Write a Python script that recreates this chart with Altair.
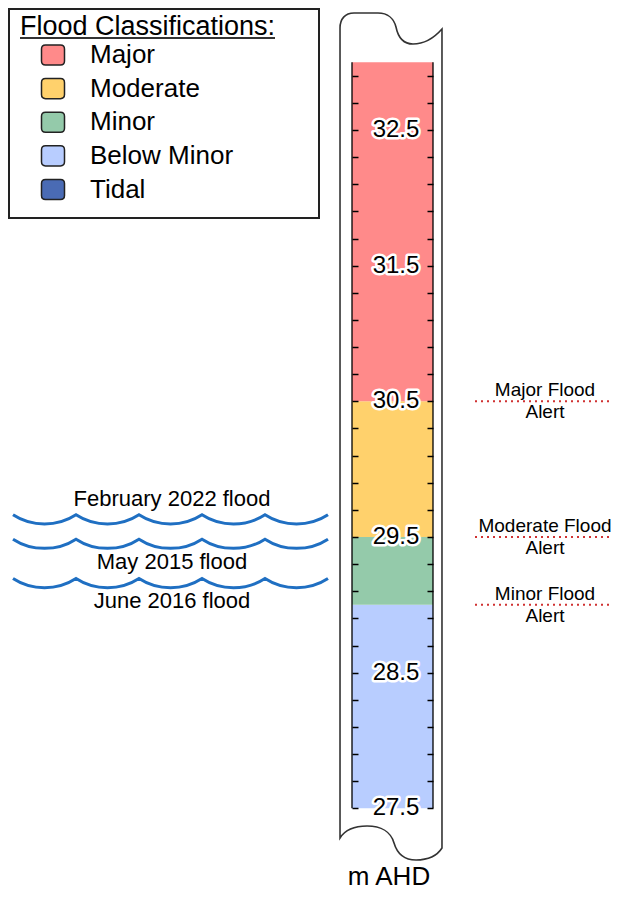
import altair as alt
import pandas as pd

# ---------------- data ----------------
LEGEND_TITLE = "Flood Classifications:"
LEGEND_CLASSES = ["Major", "Moderate", "Minor", "Below Minor", "Tidal"]
LEGEND_COLORS = ["#FF8A8A", "#FFD16C", "#94CAAA", "#B8CDFF", "#4A6BB4"]

BAND_CLASSES = ["Below Minor", "Minor", "Moderate", "Major"]
BAND_LOWER = [27.5, 29.0, 29.5, 30.5]
BAND_UPPER = [29.0, 29.5, 30.5, 33.0]

TICK_VALUES = [27.5, 27.7, 27.9, 28.1, 28.3, 28.5, 28.7, 28.9, 29.1, 29.3,
               29.5, 29.7, 29.9, 30.1, 30.3, 30.5, 30.7, 30.9, 31.1, 31.3,
               31.5, 31.7, 31.9, 32.1, 32.3, 32.5, 32.7, 32.9]
TICK_LABELS = [27.5, 28.5, 29.5, 30.5, 31.5, 32.5]

FLOOD_EVENTS = ["February 2022 flood", "May 2015 flood", "June 2016 flood"]
FLOOD_LEVELS = [29.63, 29.45, 29.16]

ALERT_NAMES = ["Major Flood", "Moderate Flood", "Minor Flood"]
ALERT_LEVELS = [30.5, 29.5, 29.0]
ALERT_SUFFIX = "Alert"

AXIS_TITLE = "m AHD"

# ---------------- layout ----------------
W, H = 605, 884
PX_PER_M = 135.66
REF_VALUE, REF_Y = 32.5, 122.0
Y_TOP = REF_VALUE + REF_Y / PX_PER_M
Y_BOT = REF_VALUE - (H - REF_Y) / PX_PER_M
COL_L, COL_R = 344, 425
FONT = "Liberation Sans"

YS = alt.Scale(domain=[Y_BOT, Y_TOP], nice=False, zero=False)
CS = alt.Scale(domain=LEGEND_CLASSES, range=LEGEND_COLORS)


def symbol_path(cmds, cx, cy, k):
    out = []
    for letter, pts in cmds:
        coords = []
        for i in range(0, len(pts), 2):
            coords.append(f"{(pts[i] - cx) / k:.4f} {(pts[i + 1] - cy) / k:.4f}")
        out.append(letter + " " + " ".join(coords))
    return " ".join(out)


# scroll outline (decorative frame)
SCROLL_CMDS = [
    ("M", [332, 830]),
    ("L", [332, 20]),
    ("C", [332, 11, 337, 5, 346, 5]),
    ("L", [370, 5]),
    ("C", [380, 5, 386, 11, 388, 19]),
    ("C", [390, 29, 395, 36, 405, 36]),
    ("C", [416, 36, 426, 30, 434, 21]),
    ("L", [434, 840]),
    ("C", [429, 848, 420, 852, 408, 852]),
    ("C", [396, 852, 389, 845, 386, 835]),
    ("C", [383, 824, 373, 818, 359, 818]),
    ("C", [347, 818, 337, 822, 332, 830]),
    ("Z", []),
]
SC_X, SC_Y, SC_K = 383, 428, 450
SCROLL_PATH = symbol_path(SCROLL_CMDS, SC_X, SC_Y, SC_K)

# wave glyph
P, A, NW = 63.0, 4.6, 5
xs = -P * NW / 2
wave_cmds = [("M", [xs, -A])]
for i in range(NW):
    x0 = xs + i * P
    wave_cmds.append(("C", [x0 + 0.10 * P, -0.1 * A, x0 + 0.25 * P, A, x0 + 0.5 * P, A]))
    wave_cmds.append(("C", [x0 + 0.75 * P, A, x0 + 0.90 * P, -0.1 * A, x0 + P, -A]))
WAVE_K = 160
WAVE_PATH = symbol_path(wave_cmds, 0, 0, WAVE_K)

RRECT = ("M -0.65 -0.87 L 0.65 -0.87 Q 1 -0.87 1 -0.52 L 1 0.52 Q 1 0.87 0.65 0.87 "
         "L -0.65 0.87 Q -1 0.87 -1 0.52 L -1 -0.52 Q -1 -0.87 -0.65 -0.87 Z")

# ---------------- frames ----------------
bands = pd.DataFrame({"cls": BAND_CLASSES, "low": BAND_LOWER, "high": BAND_UPPER})
column = pd.DataFrame({"low": [min(BAND_LOWER)], "high": [max(BAND_UPPER)]})
labels = pd.DataFrame({"v": TICK_LABELS, "t": [f"{v:.1f}" for v in TICK_LABELS]})
floods = pd.DataFrame({"event": FLOOD_EVENTS, "level": FLOOD_LEVELS})
alerts = pd.DataFrame({"name": ALERT_NAMES, "level": ALERT_LEVELS})
one = pd.DataFrame({"a": [0]})
legend_df = pd.DataFrame({"cls": LEGEND_CLASSES})

tick_axis = dict(values=TICK_VALUES, labels=False, domain=False, grid=False,
                 ticks=True, tickColor="black", tickWidth=1.5, tickSize=6, zindex=2)

scroll = alt.Chart(one).mark_point(
    shape=SCROLL_PATH, size=(2 * SC_K) ** 2, filled=True, fill="white",
    stroke="#333333", strokeWidth=1.6, opacity=1
).encode(x=alt.value(SC_X), y=alt.value(SC_Y))

band_layer = alt.Chart(bands).mark_rect().encode(
    x=alt.value(COL_L), x2=alt.value(COL_R),
    y=alt.Y("low:Q", scale=YS, title=None,
            axis=alt.Axis(orient="right", offset=-(W - COL_L), **tick_axis)),
    y2="high:Q",
    color=alt.Color("cls:N", scale=CS, legend=None),
)

edge_left = alt.Chart(column).mark_rule(color="black", strokeWidth=1.3).encode(
    x=alt.value(COL_L),
    y=alt.Y("low:Q", scale=YS, title=None,
            axis=alt.Axis(orient="left", offset=-COL_R, **tick_axis)),
    y2="high:Q",
)
edge_right = alt.Chart(column).mark_rule(color="black", strokeWidth=1.3).encode(
    x=alt.value(COL_R),
    y=alt.Y("low:Q", scale=YS, axis=None),
    y2="high:Q",
)

lab_halo = alt.Chart(labels).mark_text(
    fontSize=24, stroke="white", strokeWidth=5, strokeJoin="round", fill="white"
).encode(x=alt.value(388), y=alt.Y("v:Q", scale=YS, axis=None), text="t:N")
lab_text = alt.Chart(labels).mark_text(fontSize=24, color="black").encode(
    x=alt.value(388), y=alt.Y("v:Q", scale=YS, axis=None), text="t:N")

waves = alt.Chart(floods).mark_point(
    shape=WAVE_PATH, size=(2 * WAVE_K) ** 2, filled=False,
    stroke="#1F6FC2", strokeWidth=3, opacity=1
).encode(x=alt.value(162.5), y=alt.Y("level:Q", scale=YS, axis=None))

flood_above = alt.Chart(floods).transform_filter(
    alt.FieldOneOfPredicate(field="event", oneOf=FLOOD_EVENTS[:1])
).mark_text(fontSize=22, dy=-20, color="black").encode(
    x=alt.value(164), y=alt.Y("level:Q", scale=YS, axis=None), text="event:N")
flood_below = alt.Chart(floods).transform_filter(
    alt.FieldOneOfPredicate(field="event", oneOf=FLOOD_EVENTS[1:])
).mark_text(fontSize=22, dy=18, color="black").encode(
    x=alt.value(164), y=alt.Y("level:Q", scale=YS, axis=None), text="event:N")

alert_lines = alt.Chart(alerts).mark_rule(
    color="#D03232", strokeWidth=2, strokeDash=[2, 4]
).encode(x=alt.value(467), x2=alt.value(W),
         y=alt.Y("level:Q", scale=YS, axis=None))
alert_names = alt.Chart(alerts).mark_text(fontSize=19, dy=-11, color="black").encode(
    x=alt.value(537), y=alt.Y("level:Q", scale=YS, axis=None), text="name:N")
alert_suffix = alt.Chart(alerts).mark_text(
    fontSize=19, dy=11, color="black", text=ALERT_SUFFIX
).encode(x=alt.value(537), y=alt.Y("level:Q", scale=YS, axis=None))

axis_title = alt.Chart(one).mark_text(
    text=AXIS_TITLE, fontSize=26, baseline="alphabetic", color="black"
).encode(x=alt.value(381), y=alt.value(877))

legend_box = alt.Chart(one).mark_rect(
    fill="white", stroke="#222222", strokeWidth=2
).encode(x=alt.value(1), x2=alt.value(311), y=alt.value(1), y2=alt.value(210))
legend_title = alt.Chart(one).mark_text(
    text=LEGEND_TITLE, fontSize=27, align="left", baseline="alphabetic", color="black"
).encode(x=alt.value(12), y=alt.value(27))
legend_underline = alt.Chart(one).mark_rule(color="#333333", strokeWidth=1.8).encode(
    x=alt.value(12), x2=alt.value(267), y=alt.value(30))

main = alt.layer(
    scroll, band_layer, edge_left, edge_right, lab_halo, lab_text,
    waves, flood_above, flood_below, alert_lines, alert_names, alert_suffix,
    axis_title, legend_box, legend_title, legend_underline,
)

LY = alt.Scale(type="point", domain=LEGEND_CLASSES, range=[47, 181.5], padding=0)
leg_sym = alt.Chart(legend_df).mark_point(
    shape=RRECT, size=23 ** 2, filled=True, stroke="#222222", strokeWidth=1.5, opacity=1
).encode(x=alt.value(45), y=alt.Y("cls:N", scale=LY, axis=None),
         color=alt.Color("cls:N", scale=CS, legend=None))
leg_lab = alt.Chart(legend_df).mark_text(
    fontSize=26, align="left", color="black"
).encode(x=alt.value(82), y=alt.Y("cls:N", scale=LY, axis=None), text="cls:N")
legend = alt.layer(leg_sym, leg_lab)

chart = alt.layer(main, legend).resolve_scale(y="independent").properties(
    width=W, height=H, padding=0, autosize=alt.AutoSizeParams(type="none")
).configure(font=FONT).configure_view(stroke=None)

chart.save("out.html", embed_options={"renderer": "svg", "actions": False})
